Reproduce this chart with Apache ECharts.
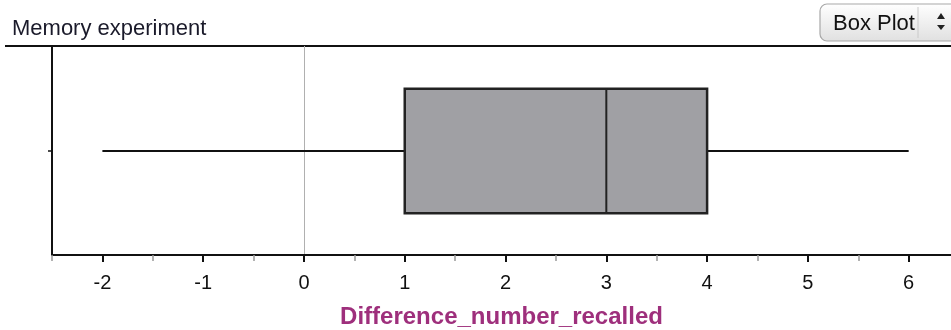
<!DOCTYPE html>
<html><head><meta charset="utf-8">
<script src="https://cdn.jsdelivr.net/npm/echarts@6/dist/echarts.min.js"></script>
<style>html,body{margin:0;padding:0;background:#fff}#c{width:951px;height:330px}</style>
</head><body><div id="c"></div>
<script>
const title = 'Memory experiment';
const variableName = 'Difference_number_recalled';
const categories = [''];
// [min, Q1, median, Q3, max]
const boxValues = [[-2, 1, 3, 4, 6]];
const majorTicks = [-2, -1, 0, 1, 2, 3, 4, 5, 6];
const minorTicks = [-2.5, -1.5, -0.5, 0.5, 1.5, 2.5, 3.5, 4.5, 5.5];
const refLine = 0;

const chart = echarts.init(document.getElementById('c'));
const FONT = '"Liberation Sans", Arial, sans-serif';
chart.setOption({
  animation: false,
  backgroundColor: '#fff',
  grid: {left: 52, right: 0, top: 46, bottom: 75, containLabel: false, outerBoundsMode: 'none'},
  xAxis: [{
    type: 'value', min: -2.5, max: 6.42,
    name: variableName, nameLocation: 'middle', nameGap: 50,
    nameTextStyle: {fontFamily: FONT, fontSize: 24, fontWeight: 'bold', color: '#9e2f7c'},
    axisLine: {show: true, onZero: false, lineStyle: {color: '#111', width: 2}},
    axisTick: {show: true, length: 7, customValues: majorTicks, lineStyle: {color: '#111', width: 2}},
    axisLabel: {customValues: majorTicks, margin: 18, fontFamily: FONT, fontSize: 20, color: '#111'},
    splitLine: {show: false}
  }, {
    type: 'value', min: -2.5, max: 6.42, position: 'bottom', gridIndex: 0,
    axisLine: {show: false, onZero: false},
    axisTick: {show: true, length: 6, customValues: minorTicks, lineStyle: {color: '#999', width: 1.5}},
    axisLabel: {show: false}, splitLine: {show: false}
  }],
  yAxis: {
    type: 'category', data: categories,
    axisLine: {show: true, onZero: false, lineStyle: {color: '#111', width: 2}},
    axisTick: {show: true, alignWithLabel: true, length: 4, lineStyle: {color: '#111', width: 1.5}},
    axisLabel: {show: false}, splitLine: {show: false}
  },
  graphic: [
    {type: 'text', x: 12, y: 29, style: {text: title, fontFamily: FONT, fontSize: 22, fill: '#1a1a2a', verticalAlign: 'middle'}},
    {type: 'line', shape: {x1: 5, y1: 46, x2: 951, y2: 46}, style: {stroke: '#111', lineWidth: 2}},
    {type: 'group', x: 820, y: 4, children: [
      {type: 'rect', shape: {x: 0, y: 0, width: 140, height: 37, r: 7},
        style: {fill: new echarts.graphic.LinearGradient(0, 0, 0, 1, [{offset: 0, color: '#ffffff'}, {offset: 1, color: '#e0e0e0'}]), stroke: '#a8a8a8', lineWidth: 1.2}},
      {type: 'text', x: 13, y: 20, style: {text: 'Box Plot', fontFamily: FONT, fontSize: 22, fill: '#111', verticalAlign: 'middle'}},
      {type: 'line', shape: {x1: 98, y1: 3, x2: 98, y2: 34}, style: {stroke: '#cacaca', lineWidth: 1}},
      {type: 'polygon', shape: {points: [[117, 15], [121, 9], [125, 15]]}, style: {fill: '#222'}},
      {type: 'polygon', shape: {points: [[117, 21], [121, 26], [125, 21]]}, style: {fill: '#222'}}
    ]}
  ],
  series: [{
    type: 'custom',
    xAxisIndex: 0,
    data: boxValues.map((v, i) => [i].concat(v)),
    encode: {y: 0, x: [1, 2, 3, 4, 5]},
    renderItem: function (params, api) {
      const cat = api.value(0);
      const pMin = api.coord([api.value(1), cat]);
      const pQ1 = api.coord([api.value(2), cat]);
      const pMed = api.coord([api.value(3), cat]);
      const pQ3 = api.coord([api.value(4), cat]);
      const pMax = api.coord([api.value(5), cat]);
      const h = api.size([0, 1])[1] * 0.595;
      const y = pMed[1] + 0.5;
      return {type: 'group', children: [
        {type: 'line', shape: {x1: pMin[0], y1: y, x2: pQ1[0], y2: y}, style: {stroke: '#111', lineWidth: 2}},
        {type: 'line', shape: {x1: pQ3[0], y1: y, x2: pMax[0], y2: y}, style: {stroke: '#111', lineWidth: 2}},
        {type: 'rect', shape: {x: pQ1[0], y: y - h / 2, width: pQ3[0] - pQ1[0], height: h}, style: {fill: '#a0a0a4', stroke: '#222', lineWidth: 2.5}},
        {type: 'line', shape: {x1: pMed[0], y1: y - h / 2, x2: pMed[0], y2: y + h / 2}, style: {stroke: '#222', lineWidth: 2}}
      ]};
    },
    markLine: {silent: true, symbol: 'none', label: {show: false}, z: 0,
      lineStyle: {color: '#b0b0b0', width: 1, type: 'solid'},
      data: [{xAxis: refLine}]}
  }]
});
</script></body></html>
